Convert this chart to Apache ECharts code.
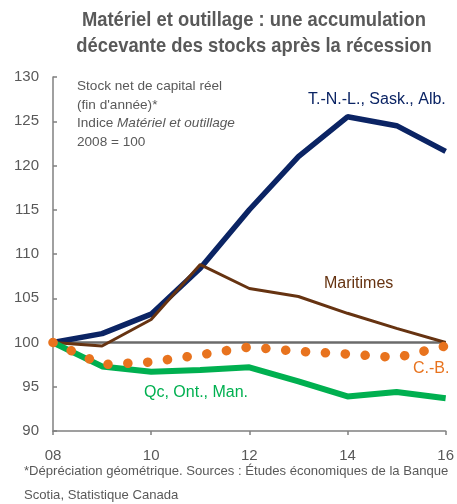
<!DOCTYPE html>
<html>
<head>
<meta charset="utf-8">
<script src="https://cdn.jsdelivr.net/npm/echarts@6/dist/echarts.min.js"></script>
<style>
  html, body { margin: 0; padding: 0; background: #fff; }
  #main { width: 457px; height: 504px; }
</style>
</head>
<body>
<div id="main"></div>
<script>
// données (indice 2008 = 100)
const years = [2008, 2009, 2010, 2011, 2012, 2013, 2014, 2015, 2016];
const tnlSaskAlb = [100, 101, 103.2, 108.4, 115, 121, 125.5, 124.5, 121.6];
const maritimes = [100, 99.6, 102.6, 108.8, 106.1, 105.2, 103.3, 101.6, 100];
const qcOntMan = [100, 97.3, 96.7, 96.9, 97.2, 95.6, 93.9, 94.4, 93.7];
const cb = [100, 97.5, 97.8, 98.6, 99.5, 99.0, 98.7, 98.3, 99.6];
const yTicks = [90, 95, 100, 105, 110, 115, 120, 125, 130];
const xTicks = ['08', '10', '12', '14', '16'];
const baseLine = 100;

const gris = '#595959';
const font = '"Liberation Sans", Arial, sans-serif';

function pairs(vals) {
    return years.map((y, i) => [y, vals[i]]);
}

const chart = echarts.init(document.getElementById('main'));
chart.setOption({
    animation: false,
    textStyle: { fontFamily: font },
    grid: { left: 53, right: 10, top: 77, bottom: 73 },
    xAxis: {
        type: 'value',
        min: 2008,
        max: 2016,
        interval: 2,
        axisLine: { lineStyle: { color: '#808080', width: 1.5 } },
        axisTick: { show: true, length: 4, lineStyle: { color: '#808080', width: 1.5 } },
        axisLabel: {
            color: gris, fontSize: 15, margin: 17,
            formatter: v => xTicks[(v - 2008) / 2]
        },
        splitLine: { show: false }
    },
    yAxis: {
        type: 'value',
        min: yTicks[0],
        max: yTicks[yTicks.length - 1],
        interval: 5,
        axisLine: { show: true, lineStyle: { color: '#808080', width: 1.5 } },
        axisTick: { show: true, inside: true, length: 4, lineStyle: { color: '#808080', width: 1.5 } },
        axisLabel: { color: gris, fontSize: 15, margin: 14 },
        splitLine: { show: false }
    },
    series: [
        {
            name: 'T.-N.-L., Sask., Alb.',
            type: 'line',
            data: pairs(tnlSaskAlb),
            symbol: 'none',
            lineStyle: { color: '#0b2464', width: 5.5 },
            z: 3,
            markLine: {
                silent: true,
                symbol: 'none',
                label: { show: false },
                lineStyle: { color: '#6b6b6b', width: 2.5, type: 'solid' },
                data: [{ yAxis: baseLine }],
                z: 1
            }
        },
        {
            name: 'Maritimes',
            type: 'line',
            data: pairs(maritimes),
            symbol: 'none',
            lineStyle: { color: '#663311', width: 3 },
            z: 4
        },
        {
            name: 'Qc, Ont., Man.',
            type: 'line',
            data: pairs(qcOntMan),
            symbol: 'none',
            lineStyle: { color: '#00b050', width: 6 },
            z: 5
        },
        {
            name: 'C.-B.',
            type: 'line',
            data: pairs(cb),
            symbol: 'none',
            lineStyle: { color: '#e8731e', width: 9.5, type: [0.1, 19.8], cap: 'round' },
            z: 6
        }
    ],
    graphic: [
        // titre, un peu condensé comme dans l'original
        {
            type: 'text', x: 254, y: 33, scaleX: 0.875,
            style: {
                text: 'Matériel et outillage : une accumulation\ndécevante des stocks après la récession',
                fill: gris, fontSize: 21, fontWeight: 'bold', lineHeight: 26, fontFamily: font,
                align: 'center', verticalAlign: 'middle', textAlign: 'center', textVerticalAlign: 'middle'
            },
            origin: [0, 0]
        },
        {
            type: 'text', left: 77, top: 77,
            style: {
                text: 'Stock net de capital réel\n(fin d\'année)*\n{n|Indice }{i|Matériel et outillage}\n2008 = 100',
                fill: gris, fontSize: 13.6, lineHeight: 18.5, fontFamily: font,
                rich: {
                    n: { fontSize: 13.6, fill: gris, fontFamily: font },
                    i: { fontSize: 13.6, fill: gris, fontStyle: 'italic', fontFamily: font }
                }
            }
        },
        { type: 'text', left: 308, top: 92, style: { text: 'T.-N.-L., Sask., Alb.', fill: '#0b2464', fontSize: 16, fontFamily: font } },
        { type: 'text', left: 324, top: 276, style: { text: 'Maritimes', fill: '#663311', fontSize: 16, fontFamily: font } },
        { type: 'text', left: 413, top: 361, style: { text: 'C.-B.', fill: '#e8731e', fontSize: 16, fontFamily: font } },
        { type: 'text', left: 144, top: 385, style: { text: 'Qc, Ont., Man.', fill: '#00b050', fontSize: 16, fontFamily: font } },
        {
            type: 'text', left: 24, top: 459,
            style: {
                text: '*Dépréciation géométrique. Sources : Études économiques de la Banque\nScotia, Statistique Canada',
                fill: gris, fontSize: 13.1, lineHeight: 24, fontFamily: font
            }
        }
    ]
});
</script>
</body>
</html>
